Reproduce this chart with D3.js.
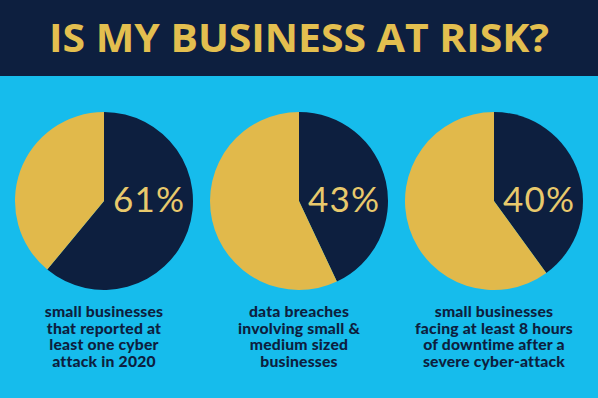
<!DOCTYPE html>
<html>
<head>
<meta charset="utf-8">
<script src="https://cdn.jsdelivr.net/npm/d3@7"></script>
<style>
  html, body { margin: 0; padding: 0; background: #16bcec; }
  svg { display: block; }
</style>
</head>
<body>
<svg id="grafico" width="598" height="398"></svg>
<script>
const titulo = "IS MY BUSINESS AT RISK?";
const percentuais = [61, 43, 40];
const legendas = [
  ["small businesses", "that reported at", "least one cyber", "attack in 2020"],
  ["data breaches", "involving small &", "medium sized", "businesses"],
  ["small businesses", "facing at least 8 hours", "of downtime after a", "severe cyber-attack"]
];

const W = 598;
const H = 398;
const NAVY = "#0d1f3f";
const OURO = "#e1b94b";
const AZUL = "#16bcec";

const svg = d3.select("#grafico");

svg.append("rect").attr("width", W).attr("height", H).attr("fill", AZUL);

// faixa do título
svg.append("rect").attr("width", W).attr("height", 76).attr("fill", NAVY);

svg.append("text")
  .attr("x", W / 2)
  .attr("y", 52)
  .attr("text-anchor", "middle")
  .attr("fill", "#e3bf4f")
  .attr("font-family", "'Open Sans', sans-serif")
  .attr("font-weight", 700)
  .attr("font-size", "38.5px")
  .attr("textLength", 500)
  .attr("lengthAdjust", "spacingAndGlyphs")
  .text(titulo);

const x = d3.scalePoint()
  .domain(d3.range(percentuais.length))
  .range([104, 494]);

const cy = 201;
const raio = 89;

const pie = d3.pie().sort(null).value((d) => d);
const arc = d3.arc().innerRadius(0).outerRadius(raio);

percentuais.forEach((p, i) => {
  const g = svg.append("g").attr("transform", `translate(${x(i)},${cy})`);

  g.selectAll("path")
    .data(pie([p, 100 - p]))
    .join("path")
    .attr("d", arc)
    .attr("fill", (d, j) => (j === 0 ? NAVY : OURO));

  g.append("text")
    .attr("x", 9)
    .attr("y", 11)
    .attr("fill", "#e8c96c")
    .attr("font-family", "Lato, sans-serif")
    .attr("font-size", "35px")
    .attr("letter-spacing", "1.2px")
    .text(`${p}%`);

  const t = svg.append("text")
    .attr("text-anchor", "middle")
    .attr("fill", NAVY)
    .attr("font-family", "Lato, sans-serif")
    .attr("font-weight", 900)
    .attr("font-size", "15.7px")
    .attr("letter-spacing", "0.2px");

  legendas[i].forEach((linha, k) => {
    t.append("tspan")
      .attr("x", x(i))
      .attr("y", 317 + k * 16.7)
      .text(linha);
  });
});
</script>
</body>
</html>
